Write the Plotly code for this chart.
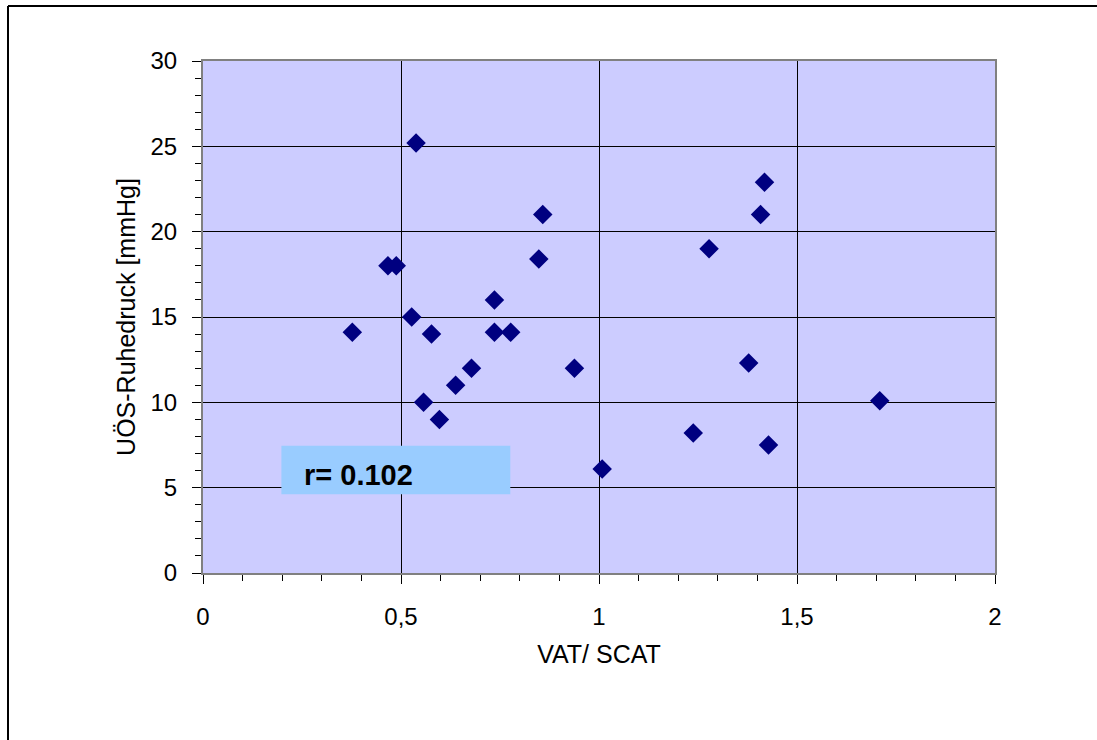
import plotly.graph_objects as go

# VAT/SCAT ratio vs. resting pressure of the upper oesophageal sphincter
vat_scat = [0.377, 0.467, 0.488, 0.527, 0.538, 0.557, 0.577, 0.597, 0.638, 0.678,
            0.736, 0.736, 0.777, 0.848, 0.858, 0.938, 1.008, 1.238, 1.278, 1.378,
            1.408, 1.418, 1.428, 1.709]
ruhedruck = [14.1, 18.0, 18.0, 15.0, 25.2, 10.0, 14.0, 9.0, 11.0, 12.0,
             16.0, 14.1, 14.1, 18.4, 21.0, 12.0, 6.1, 8.2, 19.0, 12.3,
             21.0, 22.9, 7.5, 10.1]
r_label = "r= 0.102"

FONT = "Arial, Liberation Sans, sans-serif"
W, H = 1097, 740
L, T, R, B = 203, 61, 102, 167

fig = go.Figure()
fig.add_trace(go.Scatter(
    x=vat_scat, y=ruhedruck, mode="markers",
    marker=dict(symbol="diamond", size=15, color="#000080",
                line=dict(width=0)),
    showlegend=False, hoverinfo="x+y",
))

axis_common = dict(
    showgrid=True, gridcolor="#000000", gridwidth=1,
    showline=True, linecolor="#808080", linewidth=2, mirror=True,
    ticks="outside", ticklen=9, tickwidth=1, tickcolor="#000000",
    tickfont=dict(family=FONT, size=24, color="#000000"),
    zeroline=False, fixedrange=True,
)

fig.update_xaxes(
    range=[0, 2], dtick=0.5, tick0=0,
    minor=dict(dtick=0.1, ticks="outside", ticklen=6, tickcolor="#000000",
               showgrid=False),
    ticklabelstandoff=12,
    title=dict(text="VAT/ SCAT", font=dict(family=FONT, size=25, color="#000000"),
               standoff=17),
    **axis_common,
)
fig.update_yaxes(
    range=[0, 30], dtick=5, tick0=0,
    minor=dict(dtick=1, ticks="outside", ticklen=6, tickcolor="#000000",
               showgrid=False),
    ticklabelstandoff=10,
    title=dict(text="UÖS-Ruhedruck [mmHg]", font=dict(family=FONT, size=25, color="#000000"),
               standoff=8),
    **axis_common,
)

# correlation coefficient box
fig.add_shape(type="rect", xref="x", yref="y",
              x0=0.198, x1=0.776, y0=4.62, y1=7.45,
              fillcolor="#99CCFF", line=dict(width=0), layer="above")
fig.add_annotation(x=0.251, y=5.75, xref="x", yref="y", text=r_label,
                   showarrow=False, xanchor="left", yanchor="middle",
                   font=dict(family=FONT, size=29, color="#000000", weight="bold"))

# outer frame of the chart: left and top edges (the others run off the page)
pw, ph = W - L - R, H - T - B
fx0 = (8 - L) / pw
fx1 = (W + 20 - L) / pw
fy_top = (H - B - 6) / ph
fy_bot = -(B + 20) / ph
fig.add_shape(type="line", xref="paper", yref="paper",
              x0=fx0, x1=fx0, y0=fy_bot, y1=fy_top,
              line=dict(color="#000000", width=2))
fig.add_shape(type="line", xref="paper", yref="paper",
              x0=fx0, x1=fx1, y0=fy_top, y1=fy_top,
              line=dict(color="#000000", width=2))

fig.update_layout(
    width=W, height=H, autosize=False,
    margin=dict(l=L, r=R, t=T, b=B, pad=0),
    paper_bgcolor="#FFFFFF", plot_bgcolor="#CCCCFF",
    separators=",.",
    font=dict(family=FONT, color="#000000"),
)

fig.write_html("out.html", config={"displayModeBar": False})
